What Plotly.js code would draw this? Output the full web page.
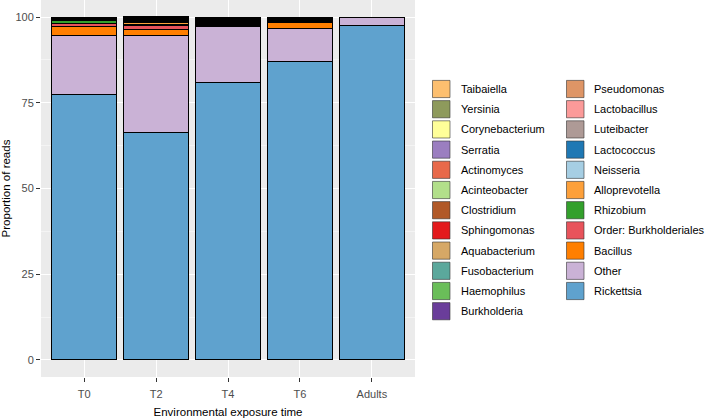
<!DOCTYPE html>
<html>
<head>
<meta charset="utf-8">
<script src="https://cdn.plot.ly/plotly-3.0.1.min.js"></script>
<style>html,body{margin:0;padding:0;background:#fff;}#chart{width:709px;height:419px;}</style>
</head>
<body>
<div id="chart"></div>
<script>
// Categories (x axis)
var samples = ["T0", "T2", "T4", "T6", "Adults"];

// Taxa in legend order (top of stack first)
var taxa = ["Taibaiella", "Yersinia", "Corynebacterium", "Serratia", "Actinomyces",
  "Acinteobacter", "Clostridium", "Sphingomonas", "Aquabacterium", "Fusobacterium",
  "Haemophilus", "Burkholderia", "Pseudomonas", "Lactobacillus", "Luteibacter",
  "Lactococcus", "Neisseria", "Alloprevotella", "Rhizobium", "Order: Burkholderiales",
  "Bacillus", "Other", "Rickettsia"];

var taxaColors = ["#FDBF6F", "#8E9A5C", "#FFFF99", "#9B7EC0", "#E8694A",
  "#B2DF8A", "#B15928", "#E31A1C", "#D6A866", "#5BA89C",
  "#6ABE59", "#6A3D9A", "#DE9566", "#FB9A99", "#AE9A96",
  "#1F78B4", "#A6CEE3", "#FDA03A", "#33A02C", "#E8535B",
  "#FF7F00", "#CAB2D6", "#5FA2CE"];

// Proportion of reads per sample, same order as taxa
var valsT0 = [0.02, 0.02, 0.03, 0.03, 0.05, 0.05, 0.05, 0.05, 0.05, 0.05,
  0.05, 0.05, 0.1, 0.05, 0.05, 0.1, 0.1, 0.1, 1.0, 0.7, 2.7, 17.1, 77.5];
var valsT2 = [0.1, 0.05, 0.05, 0.1, 0.1, 0.1, 0.3, 0.1, 0.1, 0.1,
  0.1, 0.1, 0.1, 0.1, 0.1, 0.1, 0.1, 0.6, 0.1, 1.2, 1.8, 28.3, 66.4];
var valsT4 = [0.15, 0.15, 0.1, 0.1, 0.1, 0.1, 0.15, 0.15, 0.1, 0.1,
  0.15, 0.1, 0.1, 0.15, 0.1, 0.15, 0.1, 0.1, 0.1, 0.3, 0.05, 16.4, 81.0];
var valsT6 = [0.05, 0.05, 0.05, 0.05, 0.05, 0.05, 0.1, 0.1, 0.1, 0.05,
  0.05, 0.05, 0.1, 0.1, 0.05, 0.1, 0.1, 0.1, 0.1, 0.1, 1.7, 9.7, 87.1];
var valsAdults = [null, null, null, null, null, null, null, null, null, null,
  null, null, null, null, null, null, null, null, null, null, null, 2.4, 97.6];

var yTicks = [0, 25, 50, 75, 100];

var bySample = [valsT0, valsT2, valsT4, valsT6, valsAdults];

// Build traces: bottom of stack first (reverse legend order)
var traces = [];
for (var k = taxa.length - 1; k >= 0; k--) {
  traces.push({
    type: "bar",
    name: taxa[k],
    x: samples,
    y: bySample.map(function (arr) { return arr[k]; }),
    width: 0.9,
    marker: { color: taxaColors[k], line: { color: "#000000", width: 1 } },
    showlegend: false,
    hoverinfo: "name+y"
  });
}

// Geometry of plot area (pixels) for the custom two-column legend
var W = 709, H = 419;
var mL = 41, mR = 294, mT = 0, mB = 42;
var pw = W - mL - mR, ph = H - mT - mB;
function px(x) { return (x - mL) / pw; }
function py(y) { return (H - mB - y) / ph; }

var shapes = [], annotations = [];
var perCol = 12, rowH = 20.2, firstY = 89;
var colKeyX = [432.5, 566.5], colTextX = [459, 592];
for (var i = 0; i < taxa.length; i++) {
  var col = Math.floor(i / perCol), row = i % perCol;
  var cy = firstY + row * rowH;
  shapes.push({
    type: "rect", xref: "paper", yref: "paper",
    x0: px(colKeyX[col]), x1: px(colKeyX[col] + 17.5),
    y0: py(cy + 8.6), y1: py(cy - 8.6),
    fillcolor: taxaColors[i], line: { color: "#333333", width: 0.6 }
  });
  annotations.push({
    xref: "paper", yref: "paper", x: px(colTextX[col]), y: py(cy),
    xanchor: "left", yanchor: "middle", showarrow: false,
    text: taxa[i], font: { family: "Liberation Sans, Arial, sans-serif", size: 11, color: "#000000" }
  });
}

var layout = {
  width: W, height: H,
  margin: { l: mL, r: mR, t: mT, b: mB, pad: 0 },
  paper_bgcolor: "#FFFFFF",
  plot_bgcolor: "#EBEBEB",
  barmode: "stack",
  bargap: 0.1,
  font: { family: "Liberation Sans, Arial, sans-serif", size: 11, color: "#4D4D4D" },
  xaxis: {
    type: "category",
    range: [-0.6, 4.6],
    showgrid: true, gridcolor: "#FFFFFF", gridwidth: 1,
    zeroline: false, showline: false,
    ticks: "outside", ticklen: 4, tickcolor: "#333333", tickwidth: 1,
    ticklabelstandoff: 3,
    tickfont: { size: 11, color: "#4D4D4D" },
    title: { text: "Environmental exposure time", font: { size: 11.5, color: "#000000" }, standoff: 8 }
  },
  yaxis: {
    range: [-5, 105],
    tickvals: yTicks, ticktext: yTicks.map(String),
    showgrid: true, gridcolor: "#FFFFFF", gridwidth: 1,
    minor: { tickvals: [12.5, 37.5, 62.5, 87.5], showgrid: true, gridcolor: "#FAFAFA", gridwidth: 0.6, ticks: "" },
    zeroline: false, showline: false,
    ticks: "outside", ticklen: 4, tickcolor: "#333333", tickwidth: 1,
    tickfont: { size: 11, color: "#4D4D4D" },
    title: { text: "Proportion of reads", font: { size: 11.5, color: "#000000" }, standoff: 6 }
  },
  shapes: shapes,
  annotations: annotations,
  showlegend: false
};

Plotly.newPlot("chart", traces, layout, { displayModeBar: false, staticPlot: true });
</script>
</body>
</html>
